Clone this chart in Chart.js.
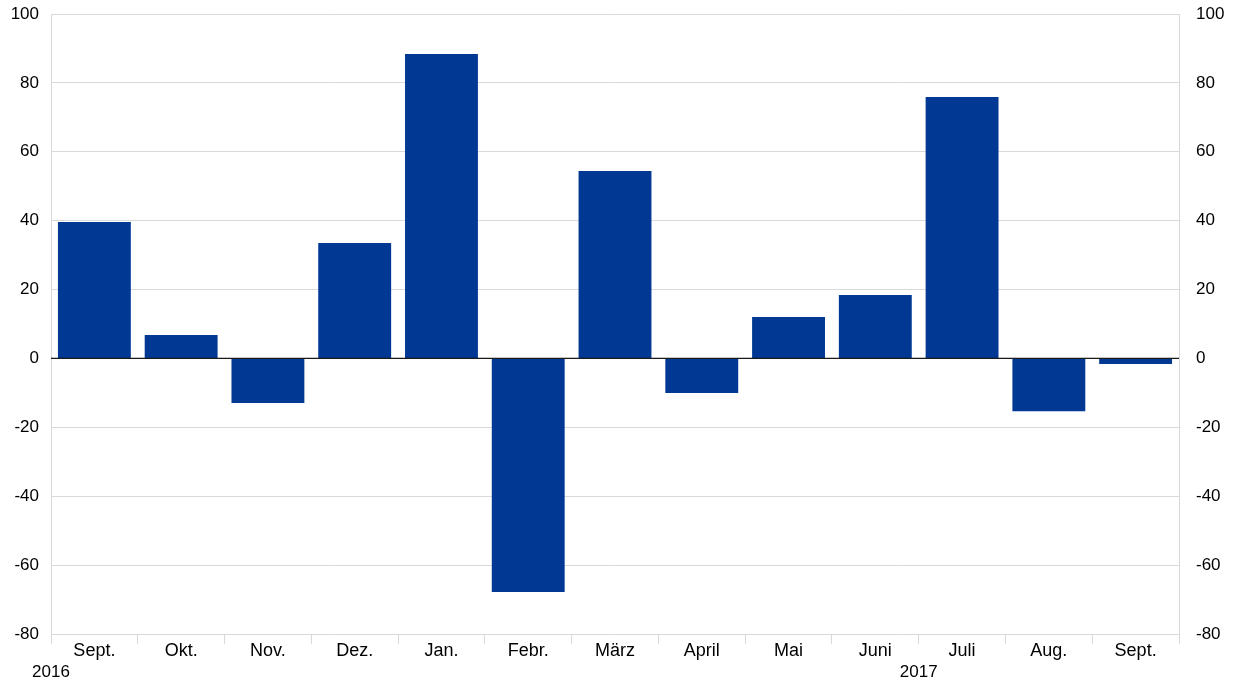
<!DOCTYPE html>
<html>
<head>
<meta charset="utf-8">
<script src="https://cdn.jsdelivr.net/npm/chart.js@4"></script>
<style>
  html, body { margin: 0; padding: 0; background: #fff; }
  #wrap { width: 1237px; height: 681px; }
</style>
</head>
<body>
<div id="wrap"><canvas id="myChart" width="1237" height="681"></canvas></div>
<script>
// Months and values
const months = ['Sept.', 'Okt.', 'Nov.', 'Dez.', 'Jan.', 'Febr.', 'März', 'April', 'Mai', 'Juni', 'Juli', 'Aug.', 'Sept.'];
const values = [39.6, 6.8, -12.9, 33.5, 88.4, -67.8, 54.4, -10.0, 12.0, 18.4, 75.9, -15.3, -1.6];
// Year labels sit on the category boundary before the given index
const years = ['2016', '2017'];
const yearAt = [0, 10];

const gridGray = '#d9d9d9';
const family = 'Liberation Sans, Arial, sans-serif';
const yFont = { family: family, size: 17 };
const xFont = { family: family, size: 18 };

// Zero line on top of the bars, plus year labels under the axis
const extras = {
    id: 'extras',
    afterDatasetsDraw(chart) {
        const { ctx, chartArea, scales } = chart;
        const y0 = scales.y.getPixelForValue(0);
        ctx.save();
        ctx.strokeStyle = '#1a1a1a';
        ctx.lineWidth = 1.2;
        ctx.beginPath();
        ctx.moveTo(chartArea.left, y0);
        ctx.lineTo(chartArea.right, y0);
        ctx.stroke();
        ctx.restore();
    },
    afterDraw(chart) {
        const { ctx, scales } = chart;
        const x = scales.x;
        const step = (x.right - x.left) / months.length;
        ctx.save();
        ctx.fillStyle = '#000';
        ctx.font = '17px ' + family;
        ctx.textAlign = 'center';
        ctx.textBaseline = 'middle';
        years.forEach((yr, i) => {
            ctx.fillText(yr, x.left + yearAt[i] * step, 672);
        });
        ctx.restore();
    }
};

function fixY(width) {
    return function (scale) {
        scale.width = width;
        scale.paddingTop = 0;
        scale.paddingBottom = 0;
    };
}

const ctx = document.getElementById('myChart').getContext('2d');
let myChart = new Chart(ctx, {
    type: 'bar',
    data: {
        labels: months,
        datasets: [
            {
                data: values,
                backgroundColor: '#003894',
                categoryPercentage: 1,
                barPercentage: 0.84,
                yAxisID: 'y',
            },
        ],
    },
    options: {
        responsive: false,
        animation: false,
        layout: { padding: { top: 14, left: 0, right: 0, bottom: 0 } },
        plugins: {
            legend: { display: false },
            tooltip: { enabled: false },
        },
        scales: {
            x: {
                offset: true,
                grid: {
                    offset: true,
                    drawOnChartArea: false,
                    color: gridGray,
                    tickLength: 10,
                },
                border: { display: false },
                ticks: { color: '#000', font: xFont, padding: -4, maxRotation: 0, autoSkip: false },
                afterFit(scale) {
                    scale.height = 47;
                    scale.paddingLeft = 0;
                    scale.paddingRight = 0;
                },
            },
            y: {
                position: 'left',
                min: -80,
                max: 100,
                ticks: { stepSize: 20, color: '#000', font: yFont, padding: 12 },
                grid: { color: gridGray, drawTicks: false },
                border: { color: gridGray },
                afterFit: fixY(51),
            },
            y2: {
                position: 'right',
                min: -80,
                max: 100,
                ticks: { stepSize: 20, color: '#000', font: yFont, padding: 17 },
                grid: { drawOnChartArea: false, drawTicks: false },
                border: { color: gridGray },
                afterFit: fixY(58),
            },
        },
    },
    plugins: [extras],
});
</script>
</body>
</html>
